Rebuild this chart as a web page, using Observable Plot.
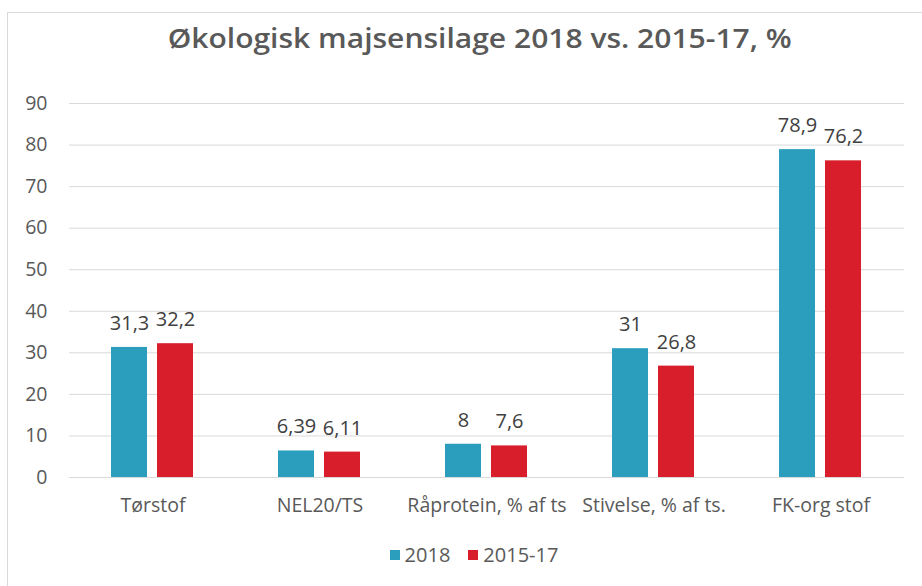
<!DOCTYPE html>
<html>
<head>
<meta charset="utf-8">
<script src="https://cdn.jsdelivr.net/npm/d3@7"></script>
<script src="https://cdn.jsdelivr.net/npm/@observablehq/plot@0.6"></script>
<style>
  html, body { margin: 0; padding: 0; background: #fff; }
  #wrap { position: relative; width: 922px; height: 586px; overflow: hidden; font-family: "Open Sans", sans-serif; }
  #frame { position: absolute; left: 7px; top: 12px; width: 940px; height: 600px; border: 1px solid #d9d9d9; box-sizing: border-box; }
  #title { position: absolute; left: 7px; width: 946px; top: 19px; text-align: center; }
  #title span { display: inline-block; font-size: 27px; font-weight: 600; color: #595959; transform-origin: center; white-space: nowrap; }
  #chart { position: absolute; left: 0; top: 80px; }
  #legend { position: absolute; left: 0; width: 948px; top: 541px; text-align: center; font-size: 20px; color: #595959; white-space: nowrap; }
  #legend span.item { display: inline-block; margin: 0 9px; }
  #legend span.sw { display: inline-block; width: 10px; height: 10px; margin-right: 5px; vertical-align: 2px; }
</style>
</head>
<body>
<div id="wrap">
  <div id="frame"></div>
  <div id="title"><span>Økologisk majsensilage 2018 vs. 2015-17, %</span></div>
  <div id="chart"></div>
  <div id="legend"></div>
</div>
<script>
const categories = ["Tørstof", "NEL20/TS", "Råprotein, % af ts", "Stivelse, % af ts.", "FK-org stof"];
const series = ["2018", "2015-17"];
const values2018 = [31.3, 6.39, 8, 31, 78.9];
const values2015_17 = [32.2, 6.11, 7.6, 26.8, 76.2];
const yTicks = [0, 10, 20, 30, 40, 50, 60, 70, 80, 90];
const colors = ["#2A9EBC", "#D71E2A"];

const data = categories.flatMap((c, i) => [
  {cat: c, series: series[0], value: values2018[i]},
  {cat: c, series: series[1], value: values2015_17[i]}
]);
const fmt = v => String(v).replace(".", ",");

const chart = Plot.plot({
  width: 922,
  height: 450,
  marginTop: 23,
  marginBottom: 53,
  marginLeft: 67,
  marginRight: 17,
  style: {fontFamily: "'Open Sans', sans-serif", fontSize: "19.5px", color: "#595959", background: "transparent"},
  fx: {domain: categories, padding: 0, axis: "bottom", label: null, tickSize: 0, tickPadding: 21},
  x: {domain: series, paddingInner: 0.213, paddingOuter: 0.894, axis: null},
  y: {domain: [0, 90], ticks: yTicks, tickSize: 0, tickPadding: 22, label: null},
  color: {domain: series, range: colors},
  marks: [
    Plot.ruleY(yTicks, {stroke: "#d9d9d9", strokeWidth: 1}),
    Plot.barY(data, {fx: "cat", x: "series", y: "value", fill: "series"}),
    Plot.text(data, {fx: "cat", x: "series", y: "value", text: d => fmt(d.value), dy: -24, fill: "#404040", fontSize: 20})
  ]
});
document.getElementById("chart").appendChild(chart);

// fit title to the reference width
const t = document.querySelector("#title span");
const w = t.getBoundingClientRect().width;
t.style.transform = `scaleX(${624 / w})`;

const legend = document.getElementById("legend");
series.forEach((s, i) => {
  const item = document.createElement("span");
  item.className = "item";
  const sw = document.createElement("span");
  sw.className = "sw";
  sw.style.background = colors[i];
  item.appendChild(sw);
  item.appendChild(document.createTextNode(s));
  legend.appendChild(item);
});
</script>
</body>
</html>
